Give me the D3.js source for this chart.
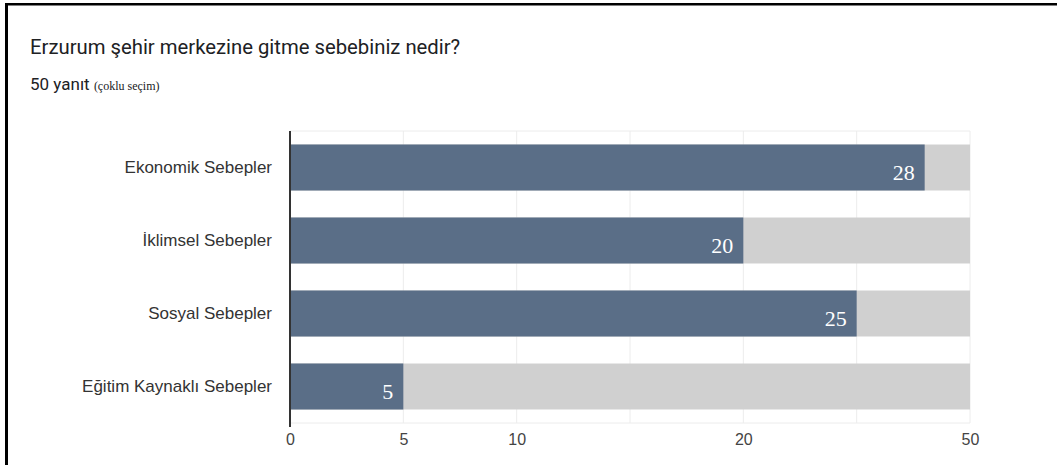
<!DOCTYPE html>
<html>
<head>
<meta charset="utf-8">
<script src="https://cdn.jsdelivr.net/npm/d3@7/dist/d3.min.js"></script>
<style>
  html, body { margin: 0; padding: 0; background: #fff; }
  svg { display: block; }
</style>
</head>
<body>
<svg id="chart" width="1057" height="465"></svg>
<script>
const categories = ["Ekonomik Sebepler", "İklimsel Sebepler", "Sosyal Sebepler", "Eğitim Kaynaklı Sebepler"];
const values = [28, 20, 25, 5];
const tickValues = [0, 5, 10, 20, 30];
const tickLabels = ["0", "5", "10", "20", "50"];
const gridValues = [5, 10, 15, 20, 25, 30];
const axisMax = 30;

const svg = d3.select("#chart");

// frame
svg.append("rect").attr("x", 5).attr("y", 3).attr("width", 1057).attr("height", 2.5).attr("fill", "#000");
svg.append("rect").attr("x", 5).attr("y", 3).attr("width", 3).attr("height", 465).attr("fill", "#000");

// title
svg.append("text").attr("x", 30).attr("y", 54)
  .attr("font-family", "Roboto, Arial, sans-serif").attr("font-size", 20.3).attr("fill", "#202124")
  .text("Erzurum şehir merkezine gitme sebebiniz nedir?");
const sub = svg.append("text").attr("x", 30).attr("y", 90)
  .attr("font-family", "Roboto, Arial, sans-serif").attr("font-size", 17).attr("fill", "#202124");
sub.append("tspan").text("50 yanıt ");
sub.append("tspan").attr("font-family", "'Liberation Serif', 'Times New Roman', serif").attr("font-size", 12).text("(çoklu seçim)");

const x = d3.scaleLinear().domain([0, axisMax]).range([290, 970]);
const y = d3.scaleBand().domain(categories).range([131, 423]).paddingInner(0.37).paddingOuter(0.185);

// grid
svg.append("g").selectAll("line").data(gridValues).join("line")
  .attr("x1", d => x(d)).attr("x2", d => x(d)).attr("y1", 131).attr("y2", 423)
  .attr("stroke", "#ececec").attr("stroke-width", 1);
svg.append("line").attr("x1", 290).attr("x2", x(axisMax)).attr("y1", 131).attr("y2", 131).attr("stroke", "#ececec");
svg.append("line").attr("x1", 290).attr("x2", x(axisMax)).attr("y1", 423).attr("y2", 423).attr("stroke", "#ececec");

// background bars
svg.append("g").selectAll("rect").data(categories).join("rect")
  .attr("x", x(0)).attr("y", d => y(d)).attr("width", x(axisMax) - x(0)).attr("height", y.bandwidth())
  .attr("fill", "#d0d0d0");

// value bars
svg.append("g").selectAll("rect").data(values).join("rect")
  .attr("x", x(0)).attr("y", (d, i) => y(categories[i])).attr("width", d => x(d) - x(0)).attr("height", y.bandwidth())
  .attr("fill", "#5a6e87");

// value labels
svg.append("g").selectAll("text").data(values).join("text")
  .attr("x", d => x(d) - 10).attr("y", (d, i) => y(categories[i]) + y.bandwidth() - 10)
  .attr("text-anchor", "end")
  .attr("font-family", "'Liberation Serif', 'Times New Roman', serif").attr("font-size", 22).attr("fill", "#fff")
  .text(d => d);

// y axis
const yAxis = svg.append("g").attr("transform", "translate(290,0)")
  .call(d3.axisLeft(y).tickSize(0).tickPadding(18));
yAxis.select(".domain").attr("stroke", "#333").attr("stroke-width", 2).attr("d", "M0,131V427");
yAxis.selectAll("text").attr("font-family", "Arial, 'Liberation Sans', sans-serif").attr("font-size", 17).attr("fill", "#333");

// x axis
const xAxis = svg.append("g").attr("transform", "translate(0,423)")
  .call(d3.axisBottom(x).tickValues(tickValues).tickFormat((d, i) => tickLabels[i]).tickSize(0).tickPadding(11));
xAxis.select(".domain").remove();
xAxis.selectAll("text").attr("font-family", "Arial, 'Liberation Sans', sans-serif").attr("font-size", 16).attr("fill", "#444");
</script>
</body>
</html>
